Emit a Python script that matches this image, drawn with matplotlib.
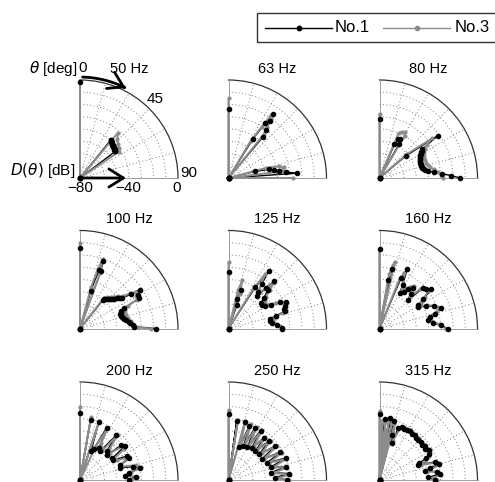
import numpy as np
import matplotlib
matplotlib.use('Agg')
import matplotlib.pyplot as plt
from matplotlib.patches import Rectangle, FancyArrowPatch
from matplotlib.lines import Line2D
from matplotlib.path import Path

plt.rcParams['font.family'] = ['Liberation Sans', 'DejaVu Sans']

# ---------------- data (theta in deg, D in dB; -80 = centre) ----------------
freq_labels = ['50 Hz', '63 Hz', '80 Hz', '100 Hz', '125 Hz', '160 Hz', '200 Hz', '250 Hz', '315 Hz']
series_names = ['No.1', 'No.3']

n1_50_t = [0, 2, 37, 39, 40, 41, 42, 43, 44, 45, 46, 47, 48, 49, 50, 51, 52, 53, 55, 90]
n1_50_d = [-2, -80, -80, -40, -40, -41, -41, -42, -42, -42, -42, -43, -43, -43, -43, -44, -44, -44, -80, -80]
n3_50_t = [0, 2, 36, 40, 44, 48, 52, 56, 58, 90]
n3_50_d = [-1, -80, -80, -32, -36, -38, -40, -42, -80, -80]

n1_63_t = [0, 2, 30, 32, 34, 35, 36, 38, 40, 42, 74, 76, 78, 80, 82, 84, 86, 88, 90]
n1_63_d = [-24, -80, -80, -42, -26, -16, -22, -30, -36, -80, -80, -58, -46, -42, -38, -33, -24, -80, -80]
n3_63_t = [0, 2, 29, 31, 33, 34, 35, 37, 39, 41, 73, 75, 77, 79, 81, 83, 85, 88, 90]
n3_63_d = [-15, -80, -80, -45, -30, -18, -20, -28, -34, -80, -80, -48, -38, -34, -36, -40, -80, -80, -27]

n1_80_t = [0, 2, 20, 24, 26, 28, 30, 32, 46, 50, 54, 56, 57, 58, 60, 61, 62, 64, 65, 67, 68, 70, 71, 73, 74, 76, 77, 79, 80, 82, 84, 86, 88, 90]
n1_80_d = [-32, -80, -80, -50, -45, -44, -48, -80, -80, -52, -21, -38, -39, -40, -41, -42, -42.5, -43, -43.5, -44, -44, -44.5, -44.5, -44.5, -44.5, -44, -44, -43, -42, -40, -35, -29, -22, -14]
n3_80_t = [0, 2, 20, 23, 26, 29, 31, 33, 46, 49, 53, 55, 57, 60, 63, 66, 69, 72, 75, 78, 81, 84, 87, 90]
n3_80_d = [-28, -80, -80, -40, -38, -37, -40, -80, -80, -50, -26, -33, -36, -38, -39, -40, -40, -40, -39, -38, -35, -32, -30, -28]

n1_100_t = [0, 2, 14, 16, 18, 19, 20, 22, 36, 39, 40, 42, 43, 45, 46, 48, 49, 51, 52, 54, 56, 57, 60, 63, 65, 67, 69, 70, 72, 73, 75, 76, 78, 80, 82, 84, 86, 88, 90]
n1_100_d = [-14, -80, -80, -48, -30, -22, -30, -80, -80, -50, -49, -48, -47, -46, -45, -44, -43, -41, -40, -38, -30, -22, -25, -26, -40, -44, -44.5, -45, -45, -45, -44.5, -44, -43, -42, -40, -39, -37, -36, -18]
n3_100_t = [0, 2, 13, 15, 17, 18, 20, 22, 35, 38, 41, 44, 47, 50, 53, 55, 57, 60, 63, 65, 68, 71, 74, 78, 82, 86, 89, 90]
n3_100_d = [-10, -80, -80, -45, -28, -20, -32, -80, -80, -48, -46, -44, -42, -39, -36, -30, -26, -27, -28, -37, -40, -41, -41, -40, -38, -36, -33, -22]

n1_125_t = [0, 2, 14, 16, 18, 20, 22, 30, 33, 35, 37, 39, 41, 43, 44, 46, 49, 52, 55, 58, 61, 63, 65, 68, 71, 73, 75, 77, 80, 83, 86, 89, 90]
n1_125_d = [-34, -80, -80, -55, -47, -60, -80, -80, -40, -23, -35, -42, -45, -35, -26, -35, -42, -46, -47, -45, -40, -33, -28, -30, -32, -32, -40, -45, -46, -44, -40, -36, -36]
n3_125_t = [0, 2, 12, 14, 16, 18, 20, 29, 32, 34, 36, 39, 41, 43, 45, 47, 50, 53, 56, 59, 62, 64, 66, 69, 72, 74, 76, 78, 81, 84, 87, 90]
n3_125_d = [-26, -80, -80, -48, -39, -50, -80, -80, -42, -26, -34, -40, -42, -32, -28, -34, -40, -43, -44, -42, -36, -31, -28, -30, -31, -34, -40, -43, -43, -41, -38, -36]

n1_160_t = [0, 2, 8, 10, 12, 14, 20, 23, 25, 28, 30, 33, 36, 39, 42, 45, 47, 50, 53, 56, 59, 61, 64, 68, 72, 75, 77, 80, 84, 87, 90]
n1_160_d = [-15, -80, -80, -40, -30, -80, -80, -35, -26, -40, -47, -44, -40, -37, -42, -47, -32, -30, -27, -37, -43, -44, -38, -32, -27, -33, -38, -40, -36, -30, -24]
n3_160_t = [0, 2, 8, 10, 12, 13, 15, 20, 22, 24, 27, 30, 33, 36, 39, 42, 44, 46, 49, 52, 55, 58, 61, 64, 67, 70, 73, 76, 79, 82, 86, 90]
n3_160_d = [-15, -80, -80, -35, -27, -24, -80, -80, -36, -30, -38, -44, -42, -38, -35, -40, -44, -34, -31, -29, -35, -40, -42, -37, -32, -29, -31, -36, -39, -37, -31, -26]

n1_200_t = [0, 2, 8, 10, 12, 16, 18, 21, 24, 27, 31, 35, 39, 43, 47, 50, 53, 56, 59, 63, 66, 70, 73, 76, 79, 82, 85, 87, 90]
n1_200_d = [-25, -80, -80, -30, -80, -80, -30, -55, -52, -32, -50, -51, -33, -48, -50, -36, -34, -48, -49, -37, -36, -45, -46, -35, -30, -40, -43, -34, -40]
n3_200_t = [0, 2, 8, 10, 12, 16, 18, 20, 25, 28, 30, 34, 37, 40, 44, 48, 52, 55, 58, 62, 65, 69, 72, 75, 78, 81, 84, 87, 90]
n3_200_d = [-20, -80, -80, -28, -80, -80, -29, -80, -50, -32, -45, -48, -50, -32, -46, -47, -35, -36, -47, -46, -36, -44, -45, -33, -29, -38, -42, -33, -38]

n1_250_t = [0, 2, 6, 8, 10, 14, 16, 18, 21, 24, 27, 30, 33, 36, 40, 43, 46, 50, 54, 58, 62, 66, 69, 73, 77, 80, 84, 87, 90]
n1_250_d = [-26, -80, -80, -31, -80, -80, -31, -52, -33, -50, -32, -49, -32, -48, -35, -48, -34, -47, -33, -48, -32, -46, -30, -44, -32, -45, -30, -42, -32]
n3_250_t = [0, 2, 7, 9, 11, 14, 16, 19, 22, 25, 28, 31, 34, 37, 41, 44, 47, 51, 55, 59, 63, 67, 70, 74, 78, 81, 85, 88, 90]
n3_250_d = [-23, -80, -80, -30, -80, -80, -30, -50, -31, -48, -31, -47, -31, -46, -34, -46, -33, -45, -32, -46, -31, -44, -30, -42, -31, -43, -30, -40, -31]

n1_315_t = [0, 1, 4, 5, 7, 8, 10, 11, 13, 14, 16, 18, 20, 23, 26, 29, 32, 35, 38, 41, 44, 47, 50, 53, 56, 59, 62, 65, 67, 69, 72, 75, 77, 79, 82, 84, 87, 90]
n1_315_d = [-26, -80, -80, -30, -80, -80, -29, -80, -80, -30, -42, -48, -35, -33, -34, -33, -33, -34, -33, -35, -35, -34, -35, -34, -35, -33, -34, -38, -45, -46, -32, -30, -38, -42, -33, -30, -40, -35]
n3_315_t = [0, 1, 3, 4, 6, 7, 9, 10, 12, 13, 15, 17, 19, 22, 25, 28, 31, 34, 37, 40, 43, 46, 49, 52, 55, 58, 61, 64, 67, 70, 73, 76, 79, 82, 85, 88, 90]
n3_315_d = [-24, -80, -31, -80, -30, -80, -29, -80, -30, -80, -33, -40, -46, -34, -32, -33, -32, -33, -33, -34, -33, -34, -34, -33, -34, -33, -33, -35, -40, -44, -31, -30, -40, -32, -30, -36, -33]

no1 = [(n1_50_t, n1_50_d), (n1_63_t, n1_63_d), (n1_80_t, n1_80_d),
       (n1_100_t, n1_100_d), (n1_125_t, n1_125_d), (n1_160_t, n1_160_d),
       (n1_200_t, n1_200_d), (n1_250_t, n1_250_d), (n1_315_t, n1_315_d)]
no3 = [(n3_50_t, n3_50_d), (n3_63_t, n3_63_d), (n3_80_t, n3_80_d),
       (n3_100_t, n3_100_d), (n3_125_t, n3_125_d), (n3_160_t, n3_160_d),
       (n3_200_t, n3_200_d), (n3_250_t, n3_250_d), (n3_315_t, n3_315_d)]

r_ticks = [-70, -60, -50, -40, -30, -20, -10]
theta_ticks = [15, 30, 45, 60, 75]

# ---------------- layout ----------------
W, H = 495, 482
fig = plt.figure(figsize=(W / 100, H / 100), dpi=100)
ox_list = [80, 228.5, 379.5]
oy_list = [178, 328.5, 480]
R = 98
BLACK = '#000000'
GRAY = '#8c8c8c'


def fx(x):
    return x / W


def fy(y):
    return 1 - y / H


axes = []
for i in range(3):
    for j in range(3):
        k = i * 3 + j
        ox, oy = ox_list[j], oy_list[i]
        ax = fig.add_axes([fx(ox), fy(oy), R / W, R / H], projection='polar')
        ax.set_theta_zero_location('N')
        ax.set_theta_direction(-1)
        ax.set_thetamin(0)
        ax.set_thetamax(90)
        ax.set_ylim(-80, 0)
        ax.set_yticks(r_ticks)
        ax.set_yticklabels([])
        ax.set_xticks(np.deg2rad(theta_ticks))
        ax.set_xticklabels([])
        ax.tick_params(length=0)
        ax.grid(True, linestyle=(0, (1, 2.5)), color='#808080', lw=0.7)
        ax.spines['polar'].set(color='#333333', lw=0.9)
        ax.spines['start'].set(color='#909090', lw=0.6)
        ax.spines['end'].set(color='#909090', lw=0.6)
        ax.patch.set_facecolor('white')

        t3, d3 = no3[k]
        t1, d1 = no1[k]
        ax.plot(np.deg2rad(t1), d1, color=BLACK, lw=1.0, zorder=2, clip_on=False)
        ax.plot(np.deg2rad(t3), d3, color=GRAY, lw=1.4, marker='o', ms=2.0,
                mfc=GRAY, mec=GRAY, zorder=3, clip_on=False)
        ax.plot(np.deg2rad(t1), d1, ls='none', marker='o', ms=3.0,
                mfc=BLACK, mec=BLACK, zorder=4, clip_on=False)
        fig.text(fx(ox + R / 2), fy(oy - R - 11), freq_labels[k],
                 ha='center', va='center', fontsize=10.5)
        axes.append(ax)

# ---------------- annotations on first panel ----------------
ox, oy = ox_list[0], oy_list[0]
arc_deg = np.linspace(1.5, 27, 40)
ra = R * 1.03
arc_pts = [(fx(ox + ra * np.sin(np.deg2rad(a))), fy(oy - ra * np.cos(np.deg2rad(a))))
           for a in arc_deg]
a1 = FancyArrowPatch(path=Path(arc_pts),
                     arrowstyle='->,head_length=0.8,head_width=0.5',
                     mutation_scale=13, lw=2, color='black',
                     transform=fig.transFigure, clip_on=False, zorder=6)
fig.patches.append(a1)
a2 = FancyArrowPatch(posA=(fx(ox), fy(oy)), posB=(fx(ox + 46), fy(oy)),
                     arrowstyle='->,head_length=0.8,head_width=0.5',
                     mutation_scale=13, lw=2, color='black',
                     transform=fig.transFigure, clip_on=False, zorder=6,
                     shrinkA=0, shrinkB=0)
fig.patches.append(a2)

fs_a = 11
fig.text(fx(77), fy(68), r'$\theta$ [deg]', ha='right', va='center', fontsize=fs_a)
fig.text(fx(83), fy(68), '0', ha='center', va='center', fontsize=fs_a)
fig.text(fx(155), fy(99), '45', ha='center', va='center', fontsize=fs_a)
fig.text(fx(180), fy(173), '90', ha='left', va='center', fontsize=fs_a)
fig.text(fx(75), fy(170), r'$D(\theta)$ [dB]', ha='right', va='center', fontsize=fs_a)
fig.text(fx(80), fy(188), '\u221280', ha='center', va='center', fontsize=fs_a)
fig.text(fx(128), fy(188), '\u221240', ha='center', va='center', fontsize=fs_a)
fig.text(fx(177), fy(188), '0', ha='center', va='center', fontsize=fs_a)

# ---------------- legend ----------------
fig.patches.append(Rectangle((fx(257), fy(42)), (505 - 257) / W, 29 / H,
                             transform=fig.transFigure, fill=False,
                             ec='#333333', lw=1.0, clip_on=False))
ly = fy(27.5)
for (x0, x1, col, lw, ms, name, tx) in [(265, 332, BLACK, 1.0, 3.2, series_names[0], 335),
                                         (383, 450, GRAY, 1.0, 3.0, series_names[1], 455)]:
    fig.lines.append(Line2D([fx(x0), fx(x1)], [ly, ly], color=col, lw=lw,
                            transform=fig.transFigure))
    fig.lines.append(Line2D([fx((x0 + x1) / 2)], [ly], color=col, marker='o', ms=ms,
                            transform=fig.transFigure))
    fig.text(fx(tx), ly, name, ha='left', va='center', fontsize=12)

fig.savefig('out.png', dpi=100)
